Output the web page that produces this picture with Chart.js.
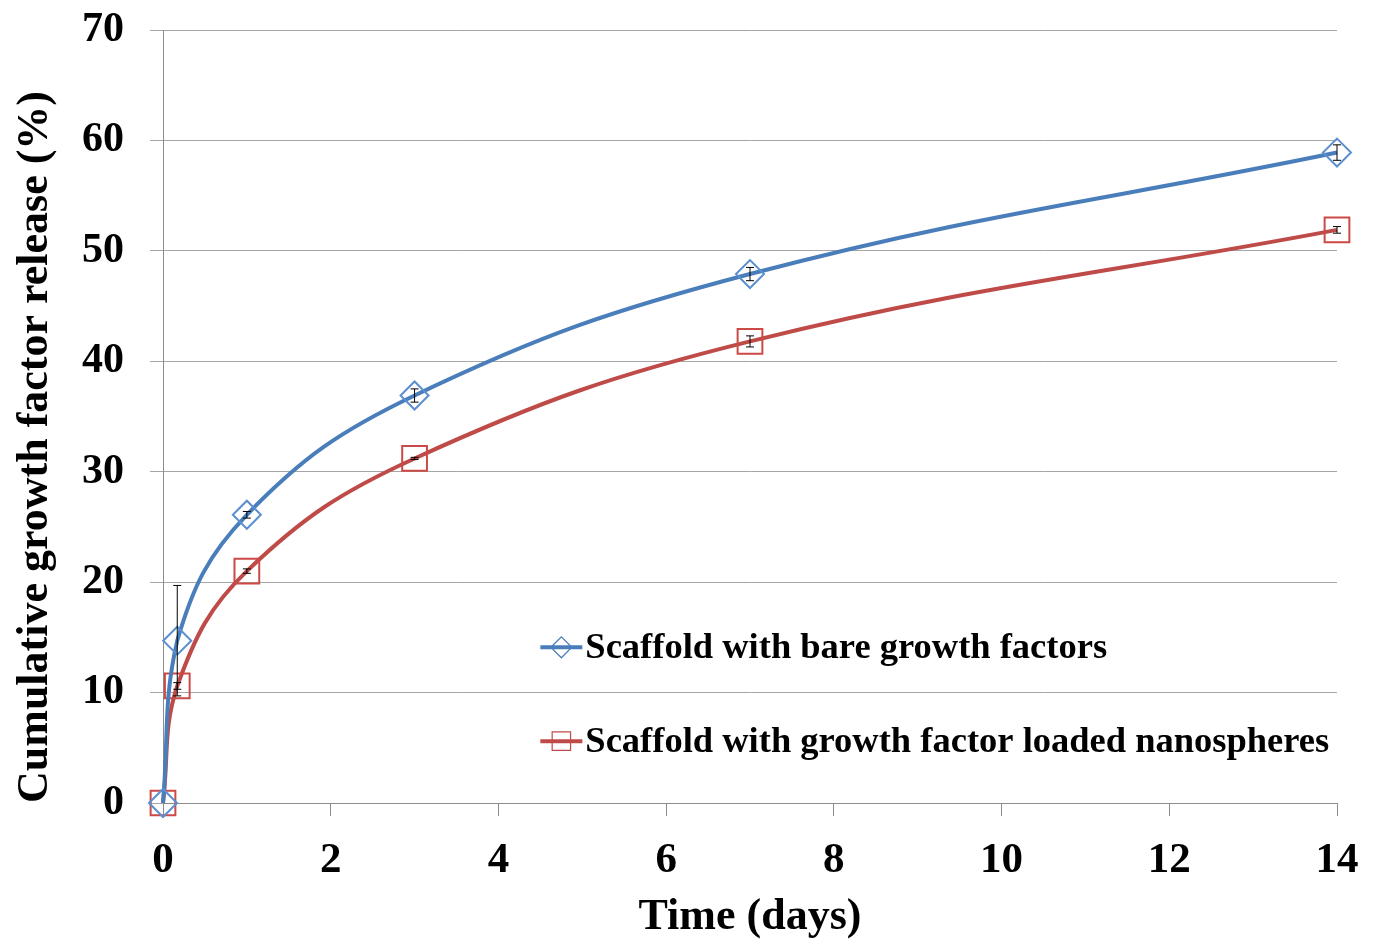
<!DOCTYPE html>
<html>
<head>
<meta charset="utf-8">
<script src="https://cdn.jsdelivr.net/npm/chart.js@4"></script>
<style>
  html, body { margin: 0; padding: 0; background: #fff; }
  #wrap { width: 1376px; height: 939px; }
</style>
</head>
<body>
<div id="wrap"><canvas id="release"></canvas></div>
<script>
// time points (days) and cumulative release (%)
var days = [0, 0.17, 1, 3, 7, 14];
var bareGF = [0, 14.7, 26.1, 36.9, 47.9, 58.9];
var bareErr = [0, 5.0, 0.3, 0.6, 0.6, 0.7];
var nanoGF = [0, 10.6, 21.0, 31.2, 41.8, 51.9];
var nanoErr = [0, 0.3, 0.2, 0.1, 0.5, 0.3];
var xTicks = [0, 2, 4, 6, 8, 10, 12, 14];
var yTicks = [0, 10, 20, 30, 40, 50, 60, 70];
var labels = ['Scaffold with bare growth factors', 'Scaffold with growth factor loaded nanospheres'];

var serif = "'Liberation Serif', 'Times New Roman', serif";
var blue = '#4a7ebb', red = '#be4b48';

function pts(ys) {
	return days.map((d, i) => ({ x: d, y: ys[i] }));
}

// little error bars, Excel style
const errorBars = {
	id: 'errorBars',
	afterDatasetsDraw(chart) {
		const ctx = chart.ctx, xs = chart.scales.x, ys = chart.scales.y;
		const errs = [bareErr, nanoErr], vals = [bareGF, nanoGF];
		ctx.save();
		ctx.strokeStyle = '#000';
		ctx.lineWidth = 1;
		for (let s = 0; s < 2; s++) {
			days.forEach((d, i) => {
				if (!errs[s][i]) return;
				const px = xs.getPixelForValue(d);
				const top = ys.getPixelForValue(vals[s][i] + errs[s][i]);
				const bot = ys.getPixelForValue(vals[s][i] - errs[s][i]);
				ctx.beginPath();
				ctx.moveTo(px, top); ctx.lineTo(px, bot);
				ctx.moveTo(px - 4, top); ctx.lineTo(px + 4, top);
				ctx.moveTo(px - 4, bot); ctx.lineTo(px + 4, bot);
				ctx.stroke();
			});
		}
		ctx.restore();
	}
};

// legend sits inside the plot, lower right
const insideLegend = {
	id: 'insideLegend',
	afterDraw(chart) {
		const ctx = chart.ctx;
		const xs = chart.scales.x, ys = chart.scales.y;
		const rows = [
			{ text: labels[0], color: blue, marker: 'rectRot', y: ys.getPixelForValue(14.1) },
			{ text: labels[1], color: red, marker: 'rect', y: ys.getPixelForValue(5.6) }
		];
		const x0 = xs.getPixelForValue(4.5);
		ctx.save();
		rows.forEach(r => {
			ctx.strokeStyle = r.color;
			ctx.lineWidth = 4;
			ctx.beginPath();
			ctx.moveTo(x0, r.y); ctx.lineTo(x0 + 42, r.y);
			ctx.stroke();
			ctx.lineWidth = 1.2;
			ctx.fillStyle = 'rgba(0,0,0,0)';
			Chart.helpers.drawPoint(ctx, { pointStyle: r.marker, radius: r.marker === 'rect' ? 13 : 10.5, borderWidth: 1.2 }, x0 + 21, r.y);
			ctx.fillStyle = '#000';
			ctx.font = 'bold 36.5px ' + serif;
			ctx.textBaseline = 'middle';
			ctx.fillText(r.text, x0 + 45, r.y + 1);
		});
		ctx.restore();
	}
};

const config = {
	type: 'line',
	data: {
		datasets: [{
			label: labels[0],
			data: pts(bareGF),
			borderColor: blue,
			borderWidth: 4,
			tension: 0.4,
			clip: false,
			pointStyle: 'rectRot',
			pointRadius: 14,
			pointBorderWidth: 2,
			pointBorderColor: '#5b8fd0',
			pointBackgroundColor: 'rgba(0,0,0,0)'
		}, {
			label: labels[1],
			data: pts(nanoGF),
			borderColor: red,
			borderWidth: 4,
			tension: 0.4,
			clip: false,
			pointStyle: 'rect',
			pointRadius: 17.5,
			pointBorderWidth: 2,
			pointBorderColor: '#cc4a46',
			pointBackgroundColor: 'rgba(0,0,0,0)'
		}]
	},
	options: {
		responsive: true,
		maintainAspectRatio: false,
		animation: false,
		layout: { padding: { top: 30, right: 39, left: 0, bottom: 0 } },
		plugins: {
			legend: { display: false },
			tooltip: { enabled: false }
		},
		scales: {
			x: {
				type: 'linear',
				min: 0, max: 14,
				afterFit(s) { s.height = 136; s.paddingLeft = 0; s.paddingRight = 0; },
				afterBuildTicks(s) { s.ticks = xTicks.map(v => ({ value: v })); },
				grid: { drawOnChartArea: false, drawTicks: true, tickLength: 13, color: '#8c8c8c' },
				border: { color: '#8c8c8c', width: 1 },
				ticks: { color: '#000', padding: 19, font: { family: serif, size: 43, weight: 'bold' } },
				title: {
					display: true, text: 'Time (days)', color: '#000',
					padding: { top: 0, bottom: -5 },
					font: { family: serif, size: 44, weight: 'bold' }
				}
			},
			y: {
				min: 0, max: 70,
				afterFit(s) { s.width = 163; s.paddingTop = 0; s.paddingBottom = 0; },
				afterBuildTicks(s) { s.ticks = yTicks.map(v => ({ value: v })); },
				grid: { color: '#a6a6a6', tickLength: 13, lineWidth: 1 },
				border: { color: '#8c8c8c', width: 1 },
				ticks: { color: '#000', padding: 26, font: { family: serif, size: 42, weight: 'bold' } },
				title: {
					display: true, text: 'Cumulative growth factor release (%)', color: '#000',
					align: 'start',
					padding: { top: 9, bottom: 0 },
					font: { family: serif, size: 44, weight: 'bold' }
				}
			}
		}
	},
	plugins: [errorBars, insideLegend]
};

var releaseChart = new Chart(document.getElementById('release'), config);
</script>
</body>
</html>
